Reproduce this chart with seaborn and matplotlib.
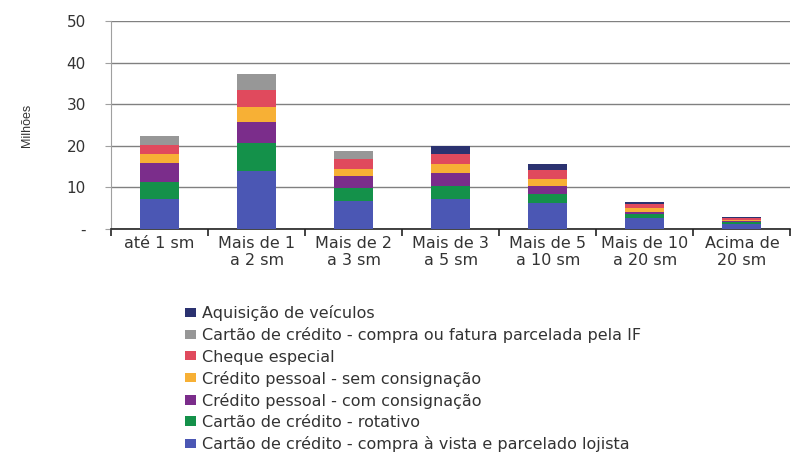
import numpy as np
import seaborn as sns
import matplotlib.pyplot as plt

# faixas de renda (salários mínimos)
categories = ["até 1 sm", "Mais de 1\na 2 sm", "Mais de 2\na 3 sm", "Mais de 3\na 5 sm",
              "Mais de 5\na 10 sm", "Mais de 10\na 20 sm", "Acima de\n20 sm"]

# milhões, de baixo para cima na pilha
compra_vista = [7.1, 13.9, 6.8, 7.2, 6.3, 2.6, 1.2]
rotativo = [4.2, 6.8, 3.1, 3.1, 2.0, 1.0, 0.5]
com_consignacao = [4.6, 5.1, 2.8, 3.2, 2.1, 0.6, 0.2]
sem_consignacao = [2.2, 3.6, 1.8, 2.1, 1.6, 0.9, 0.3]
cheque_especial = [2.2, 4.0, 2.4, 2.5, 2.1, 0.8, 0.35]
fatura_parcelada = [2.0, 3.8, 1.8, 0.0, 0.0, 0.0, 0.0]
veiculos = [0.0, 0.0, 0.0, 1.8, 1.6, 0.6, 0.35]

series = [
    ("Cartão de crédito - compra à vista e parcelado lojista", compra_vista, "#4b57b4"),
    ("Cartão de crédito - rotativo", rotativo, "#14914a"),
    ("Crédito pessoal - com consignação", com_consignacao, "#7b2d8b"),
    ("Crédito pessoal - sem consignação", sem_consignacao, "#f7b035"),
    ("Cheque especial", cheque_especial, "#e04a5d"),
    ("Cartão de crédito - compra ou fatura parcelada pela IF", fatura_parcelada, "#979797"),
    ("Aquisição de veículos", veiculos, "#2b3270"),
]

plt.rcParams['font.family'] = ['DejaVu Sans']
text_color = "#333333"

fig = plt.figure(figsize=(7.91, 4.53), dpi=100)
ax = fig.add_axes([0.1403, 0.4945, 0.859, 0.459])

# stacked bars: draw cumulative totals from the top layer down
cum = np.cumsum([s[1] for s in series], axis=0)
for i in range(len(series) - 1, -1, -1):
    name, _, color = series[i]
    sns.barplot(x=categories, y=cum[i], color=color, width=0.4, saturation=1,
                label=name, ax=ax, zorder=3, linewidth=0)

ax.set_ylim(0, 50)
ax.set_xlim(-0.5, 6.5)
ax.set_yticks(range(0, 51, 10))
ax.set_yticklabels(["-", "10", "20", "30", "40", "50"])
ax.yaxis.grid(True, color="#808080", linewidth=1, zorder=0)
ax.set_axisbelow(True)

for side in ["top", "right"]:
    ax.spines[side].set_visible(False)
ax.spines["left"].set_color("#a0a0a0")
ax.spines["bottom"].set_color("#222222")
ax.spines["bottom"].set_linewidth(1.2)

ax.tick_params(axis="y", length=4, color="#a0a0a0", labelsize=11, labelcolor=text_color, pad=14)
ax.set_xticks(np.arange(-0.5, 7.0, 1.0), minor=True)
ax.tick_params(axis="x", which="major", length=0, labelsize=11.5, labelcolor=text_color, pad=5)
ax.tick_params(axis="x", which="minor", length=5, width=1.2, color="#222222")
ax.set_ylabel("Milhões", fontsize=9, color=text_color, labelpad=24, family="Liberation Sans")
ax.set_xlabel("")

handles, labels = ax.get_legend_handles_labels()
if ax.get_legend() is not None:
    ax.get_legend().remove()
fig.legend(handles, labels, loc="upper left", bbox_to_anchor=(0.226, 0.34),
           frameon=False, fontsize=11.5, labelcolor=text_color,
           handlelength=0.7, handleheight=0.5, handletextpad=0.35,
           labelspacing=0.38, borderaxespad=0)

fig.savefig("out.png", dpi=100)
